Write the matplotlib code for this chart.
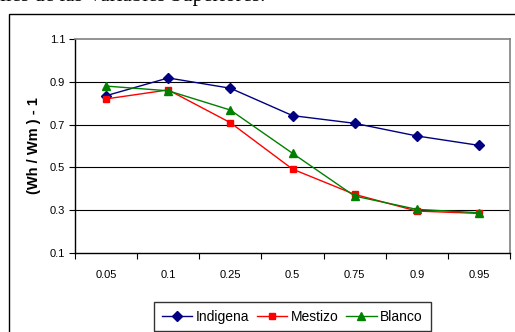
import matplotlib
matplotlib.use("Agg")
import matplotlib.pyplot as plt
from matplotlib.patches import Rectangle

categories = ["0.05", "0.1", "0.25", "0.5", "0.75", "0.9", "0.95"]
indigena = [0.835, 0.918, 0.870, 0.742, 0.706, 0.647, 0.603]
mestizo = [0.820, 0.862, 0.709, 0.492, 0.374, 0.296, 0.285]
blanco = [0.880, 0.858, 0.768, 0.566, 0.366, 0.304, 0.288]
yticks = [0.1, 0.3, 0.5, 0.7, 0.9, 1.1]
ylabel = "(Wh / Wm ) - 1"
series_names = ["Indigena", "Mestizo", "Blanco"]
heading = "Cuantiles de las Variables Superiores."

plt.rcParams['font.family'] = ['Liberation Sans', 'DejaVu Sans']

W, H = 515, 332
fig = plt.figure(figsize=(W / 100, H / 100), dpi=100)

# outer chart frame (partially cut off)
fig.add_artist(Rectangle((8.5 / W, -0.2), 1.2, 1.2 - 13.5 / H,
                         transform=fig.transFigure, fill=False,
                         edgecolor='black', linewidth=1.0, clip_on=False))
# cut-off heading text at top
fig.text(265 / W, 1 - 1.0 / H, heading, ha='right', va='baseline',
         fontsize=15, family=['Liberation Serif', 'DejaVu Serif'], color='black')

ax = fig.add_axes([75 / W, 1 - 253 / H, (510 - 75) / W, (253 - 39) / H])
x = list(range(len(categories)))

ax.plot(x, indigena, color='#000080', marker='D', markersize=5, linewidth=1.0,
        label=series_names[0], zorder=3)
ax.plot(x, mestizo, color='#FF0000', marker='s', markersize=5, linewidth=1.0,
        label=series_names[1], zorder=3)
ax.plot(x, blanco, color='#008000', marker='^', markersize=6, linewidth=1.0,
        label=series_names[2], zorder=3)

ax.set_xlim(-0.5, len(categories) - 0.5)
ax.set_ylim(0.1, 1.1)
ax.set_yticks(yticks)
ax.set_yticklabels([f"{v:.1f}" for v in yticks], fontsize=8)
ax.set_xticks(x)
ax.set_xticklabels(categories, fontsize=8)
ax.set_xticks([i - 0.5 for i in range(len(categories) + 1)], minor=True)
ax.tick_params(axis='x', which='major', length=0, pad=12)
ax.tick_params(axis='x', which='minor', length=4, width=0.8, color='black', direction='out')
ax.tick_params(axis='y', which='major', length=4, width=0.8, color='black', direction='out', pad=3)

ax.yaxis.grid(True, color='black', linewidth=0.8)
ax.set_axisbelow(True)
glines = ax.yaxis.get_gridlines()
glines[0].set_visible(False)
glines[-1].set_visible(False)

for side in ['left', 'bottom']:
    ax.spines[side].set_color('black')
    ax.spines[side].set_linewidth(1.0)
for side in ['top', 'right']:
    ax.spines[side].set_color('#808080')
    ax.spines[side].set_linewidth(1.2)

ax.set_ylabel(ylabel, fontsize=10.5, fontweight='bold', labelpad=6)

leg = fig.legend(loc='upper left', bbox_to_anchor=(154 / W, 1 - 302 / H),
                 bbox_transform=fig.transFigure, ncol=3, fontsize=10,
                 frameon=True, fancybox=False, edgecolor='black',
                 handlelength=2.2, handletextpad=0.25, columnspacing=0.55,
                 borderpad=0.55, borderaxespad=0)
leg.get_frame().set_linewidth(1.0)

fig.savefig("out.png", dpi=100)
